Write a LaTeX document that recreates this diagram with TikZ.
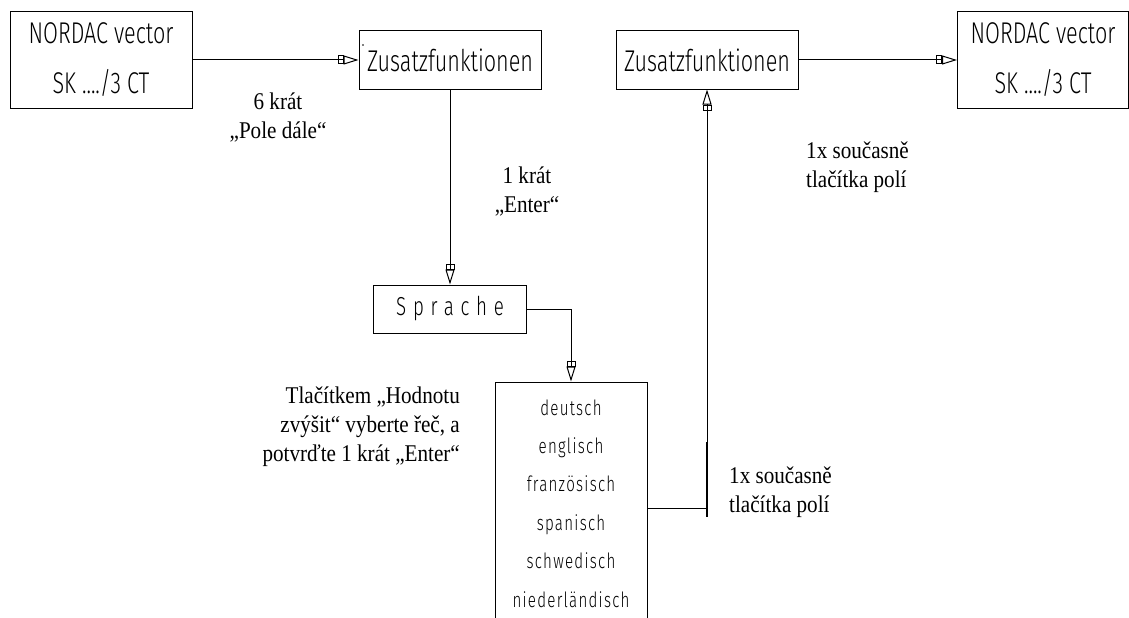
\documentclass[tikz,border=0pt]{standalone}
\usepackage{fontspec}
\setmainfont[FakeStretch=0.88]{Liberation Serif}
\newfontfamily\isofont[FakeStretch=0.72]{Fira Sans Light}
\newfontfamily\isowide[FakeStretch=0.72,LetterSpace=6]{Fira Sans Light}
\newfontfamily\isowider[FakeStretch=0.72,LetterSpace=26]{Fira Sans Light}
\usetikzlibrary{arrows.meta, positioning, calc}

\tikzset{
  box/.style={draw, line width=1pt, inner sep=0pt, align=center,
    font=\isofont\fontsize{30}{50}\selectfont},
  flow/.style={line width=1pt,
    -{Rectangle[open,length=6pt,width=9pt] Triangle[open,length=15pt,width=9pt]}},
  note/.style={inner sep=0pt, font=\fontsize{24}{29}\selectfont},
  langitem/.style={inner sep=0pt, font=\isowide\fontsize{21}{24}\selectfont},
}

\begin{document}
\begin{tikzpicture}[x=1pt,y=-1pt]
  \useasboundingbox (0,0) rectangle (1129,618);

  % ---------- boxes ----------
  \node[box, minimum width=182pt, minimum height=96pt] (nord1) at (101,60) {NORDAC vector\\SK ..../3 CT};
  \node[box, minimum width=182pt, minimum height=58pt] (zus1) at (450,60) {Zusatzfunktionen};
  \node[box, minimum width=182pt, minimum height=58pt] (zus2) at (707,60) {Zusatzfunktionen};
  \node[box, minimum width=171pt, minimum height=96pt] (nord2) at (1043,60) {NORDAC vector\\SK ..../3 CT};
  \node[box, minimum width=153pt, minimum height=48pt,
        font=\isowider\fontsize{26}{30}\selectfont] (sprache) at (450,309) {Sprache};
  \node[draw, line width=1pt, minimum width=152pt, minimum height=252pt] (langs) at (571,508) {};
  \fill (363,45) circle (0.9pt);

  % ---------- languages ----------
  \foreach \i/\lang in {0/deutsch, 1/englisch, 2/französisch, 3/spanisch, 4/schwedisch, 5/niederländisch}
    \node[langitem, anchor=base] (lang\i) at (571,{415+38.4*\i}) {\lang};

  % ---------- connectors ----------
  \coordinate (bar) at (707,508);
  \draw[flow] (nord1) -- (zus1);
  \draw[flow] (zus1.south) -- (sprache.north);
  \draw[flow] (sprache.east) -| (langs.north);
  \draw[line width=1pt] (langs.east) -- (bar);
  \draw[line width=2pt] ($(bar)+(0,-66)$) -- ($(bar)+(0,9)$);
  \draw[flow] (bar) -- (zus2.south);
  \draw[flow] (zus2) -- (nord2);

  % ---------- notes (base = last line) ----------
  \node[note, align=center, anchor=base] (pole) at (278,138) {6 krát\\„Pole dále“};
  \node[note, align=center, anchor=base] (enter) at (527,212) {1 krát\\„Enter“};
  \node[note, align=left, anchor=base west] (tl1) at (806,187) {1x současně\\tlačítka polí};
  \node[note, align=right, anchor=base east] (select) at (460,461) {Tlačítkem „Hodnotu\\zvýšit“ vyberte řeč, a\\potvrďte 1 krát „Enter“};
  \node[note, align=left, anchor=base west] (tl2) at (729,512) {1x současně\\tlačítka polí};

\end{tikzpicture}
\end{document}
